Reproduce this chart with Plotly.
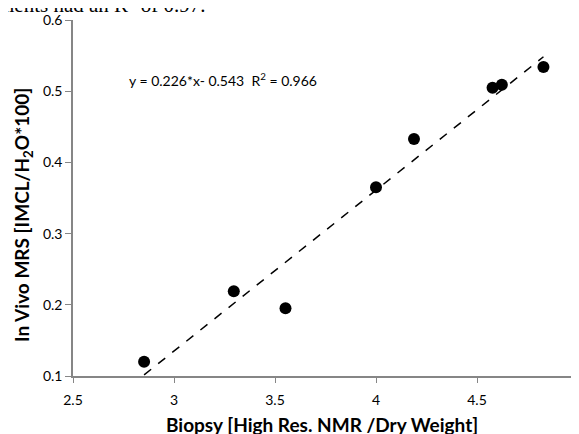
import plotly.graph_objects as go

biopsy = [2.852, 3.296, 3.552, 4.0, 4.188, 4.577, 4.623, 4.829]
mrs = [0.120, 0.219, 0.195, 0.365, 0.433, 0.505, 0.509, 0.534]
slope, intercept = 0.226, -0.543
fit_x = [min(biopsy), max(biopsy)]
fit_y = [slope * v + intercept for v in fit_x]

x_ticks = [2.5, 3, 3.5, 4, 4.5, 5]
y_ticks = [0.1, 0.2, 0.3, 0.4, 0.5, 0.6]

font_fam = "Lato, 'Open Sans', sans-serif"

fig = go.Figure()
fig.add_trace(go.Scatter(x=fit_x, y=fit_y, mode="lines",
                         line=dict(color="black", width=1.5, dash="dash"),
                         showlegend=False, hoverinfo="skip"))
fig.add_trace(go.Scatter(x=biopsy, y=mrs, mode="markers",
                         marker=dict(color="black", size=12),
                         showlegend=False))

# page body has an 8px default margin; lay out in page pixels
OFF = 8
W, H = 579 - OFF, 434 - OFF
L, T = 73 - OFF, 20 - OFF
R = W - (578 - OFF)
B = H - (376 - OFF)
pw = W - L - R
ph = H - T - B

def px(xp):
    return (xp - OFF - L) / pw

def py(yp):
    return 1 - (yp - OFF - T) / ph

fig.update_layout(
    width=W, height=H,
    margin=dict(l=L, r=R, t=T, b=B),
    paper_bgcolor="white", plot_bgcolor="white",
    font=dict(family=font_fam, size=14, color="black"),
    xaxis=dict(range=[2.5, 5], tickvals=x_ticks, ticktext=[str(v) for v in x_ticks],
               showgrid=False, zeroline=False, showline=True, linecolor="#868686",
               linewidth=1.5, ticks="outside", tickcolor="#868686", ticklen=5,
               automargin=False, ticklabeloverflow="allow", ticklabelstandoff=5,
               tickfont=dict(size=14, family=font_fam)),
    yaxis=dict(range=[0.1, 0.6], tickvals=y_ticks, ticktext=[f"{v:.1f}" for v in y_ticks],
               showgrid=False, zeroline=False, showline=True, linecolor="#868686",
               linewidth=1.5, ticks="outside", tickcolor="#868686", ticklen=6,
               automargin=False, ticklabeloverflow="allow",
               tickfont=dict(size=14, family=font_fam)),
    annotations=[
        dict(text="<b>Biopsy [High Res. NMR /Dry Weight]</b>", xref="paper", yref="paper",
             x=px(322), y=py(424), xanchor="center", yanchor="middle",
             showarrow=False, font=dict(size=19, family=font_fam)),
        dict(text="<b>In Vivo MRS [IMCL/H<sub>2</sub>O*100]</b>", xref="paper", yref="paper",
             x=px(23), y=py(215), xanchor="center", yanchor="middle", textangle=-90,
             showarrow=False, font=dict(size=19, family=font_fam)),
        dict(text="y = 0.226*x- 0.543  R<sup>2</sup> = 0.966", xref="paper", yref="paper",
             x=px(127), y=py(79), xanchor="left", yanchor="middle",
             showarrow=False, font=dict(size=14, family=font_fam)),
        dict(text="ments had an R<sup>2</sup> of 0.97.", xref="paper", yref="paper",
             x=px(-4), y=py(4), xanchor="left", yanchor="middle",
             showarrow=False, font=dict(size=21, family="'Liberation Serif', serif")),
    ],
)

fig.write_html("out.html")
